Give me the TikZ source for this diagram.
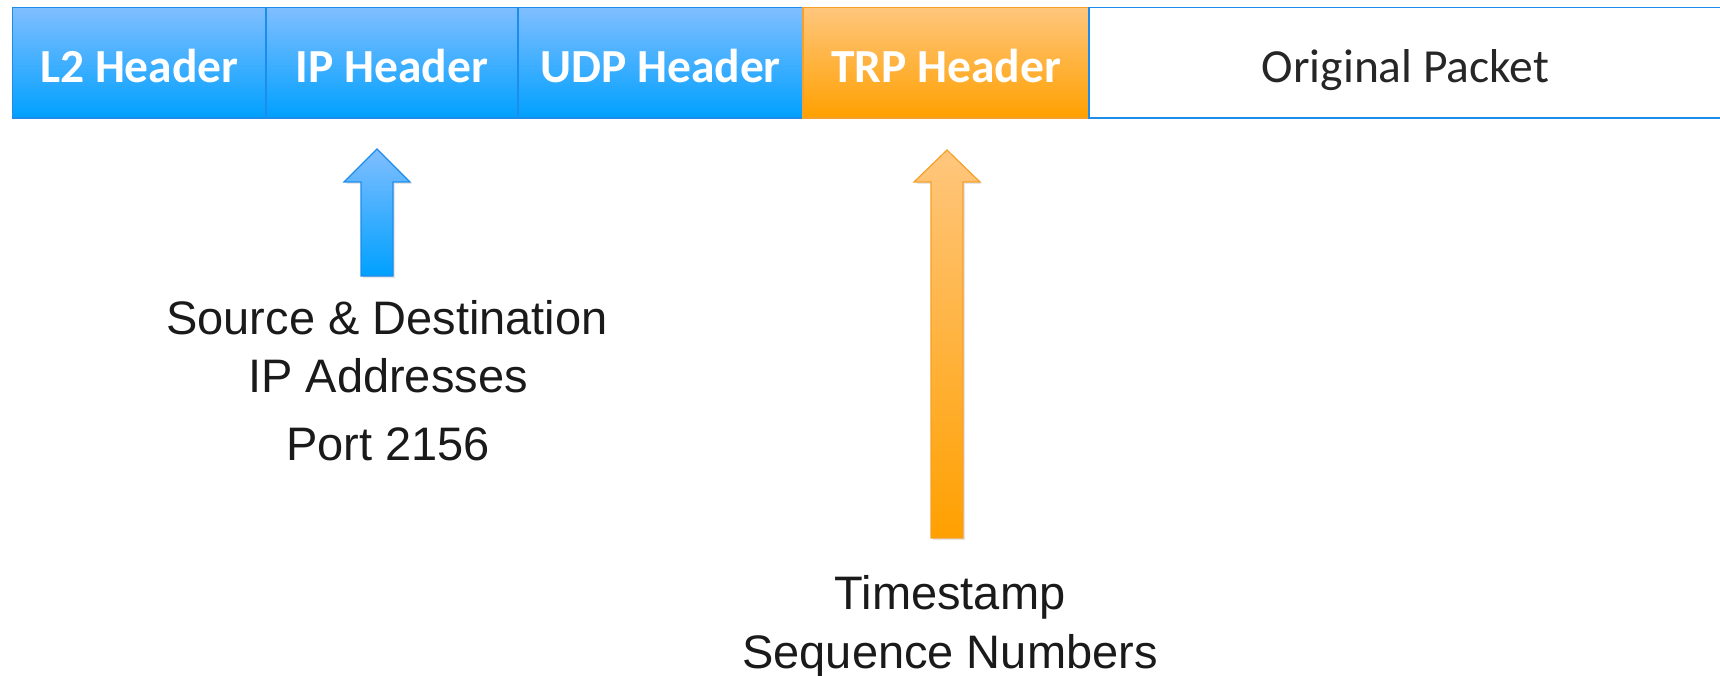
\documentclass[tikz,border=0pt]{standalone}
\usepackage{fontspec}
\setmainfont{Liberation Sans}
\newfontfamily\calib{Carlito}
\usetikzlibrary{shadows}
\definecolor{bluetop}{RGB}{128,190,255}
\definecolor{bluebot}{RGB}{0,160,255}
\definecolor{blueline}{RGB}{30,140,235}
\definecolor{orgtop}{RGB}{255,198,125}
\definecolor{orgbot}{RGB}{255,160,0}
\definecolor{orgline}{RGB}{245,160,40}
\definecolor{darktext}{RGB}{38,38,38}
\definecolor{labtext}{RGB}{26,26,26}
\tikzset{
  box/.style={draw, line width=1.5pt, inner sep=0pt, minimum height=110.5pt},
  bluebox/.style={box, draw=blueline, top color=bluetop, bottom color=bluebot},
  orgbox/.style={box, draw=orgline, top color=orgtop, bottom color=orgbot},
  whitebox/.style={box, draw=blueline, fill=white},
  hdrtext/.style={anchor=base, inner sep=0pt, text=white, font=\calib\bfseries\fontsize{47.5}{56}\selectfont},
  pkttext/.style={anchor=base, inner sep=0pt, text=darktext, font=\calib\fontsize{47.5}{56}\selectfont},
  labeltext/.style={anchor=base, inner sep=0pt, text=labtext, font=\fontsize{47}{56}\selectfont},
  bluearrow/.style={draw=blueline, line width=1.2pt, top color=bluetop, bottom color=bluebot,
    drop shadow={opacity=0.2, shadow xshift=2pt, shadow yshift=-2pt}},
  orgarrow/.style={draw=orgline, line width=1.2pt, top color=orgtop, bottom color=orgbot,
    drop shadow={opacity=0.2, shadow xshift=2pt, shadow yshift=-2pt}},
}
\begin{document}
\begin{tikzpicture}[x=1pt,y=-1pt]
\useasboundingbox (0,0) rectangle (1720,676);
% header bar
\node[bluebox, minimum width=253.3pt] (l2) at (139.35,62.75) {};
\node[bluebox, minimum width=252pt] (ip) at (392,62.75) {};
\node[bluebox, minimum width=285pt] (udp) at (660.5,62.75) {};
\node[orgbox, minimum width=286pt] (trp) at (946,62.75) {};
\node[whitebox, minimum width=633pt] (orig) at (1405.5,62.75) {};
\node[hdrtext] (l2t) at (l2.center |- 0,83) {L2 Header};
\node[hdrtext] (ipt) at (ip.center |- 0,83) {IP Header};
\node[hdrtext] (udpt) at (udp.center |- 0,83) {UDP Header};
\node[hdrtext] (trpt) at (trp.center |- 0,83) {TRP Header};
\node[pkttext] (origt) at (orig.center |- 0,83) {Original Packet};
% blue arrow
\coordinate (btip) at (377,149);
\path[bluearrow] (btip) -- (410,182) -- (393,182) -- (393,276) -- (361,276) -- (361,182) -- (344,182) -- cycle;
% orange arrow
\coordinate (otip) at (947,150);
\path[orgarrow] (otip) -- (980,182) -- (963,182) -- (963,538) -- (931,538) -- (931,182) -- (914,182) -- cycle;
% labels
\node[labeltext] (src1) at (387,334) {Source \& Destination};
\node[labeltext] (src2) at (388,392) {IP Addresses};
\node[labeltext] (src3) at (388,460) {Port 2156};
\node[labeltext] (ts1) at (950,609) {Timestamp};
\node[labeltext] (ts2) at (950,668) {Sequence Numbers};
\end{tikzpicture}
\end{document}
